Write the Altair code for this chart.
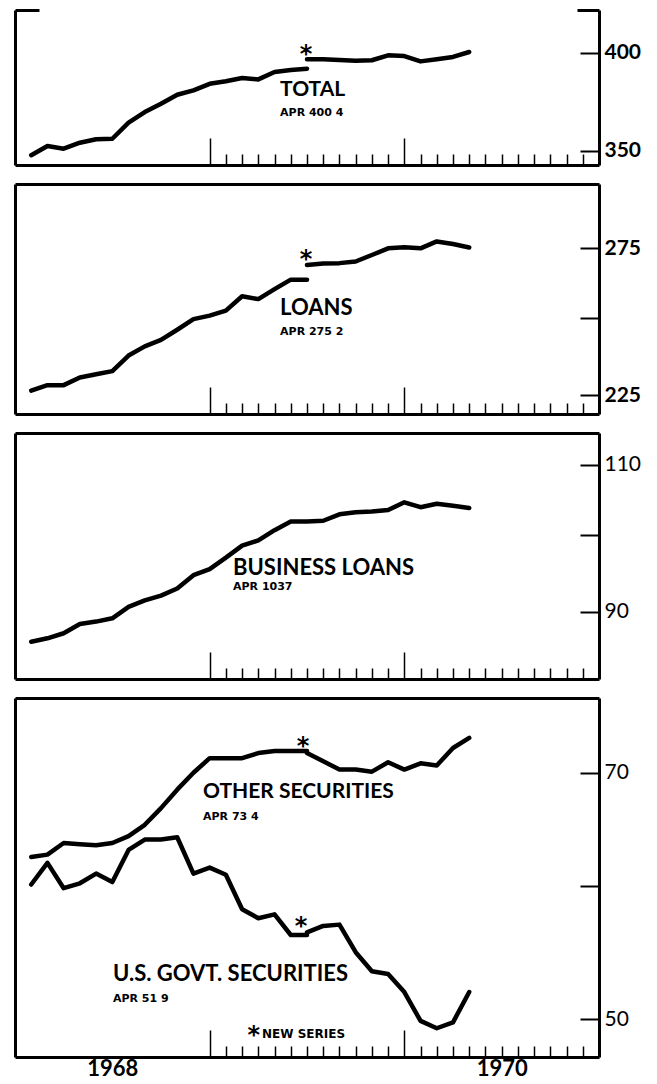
import altair as alt
import pandas as pd

# month index: Dec 1967 = 0, Jan 1968 = 1, ... Dec 1969 = 24, Apr 1970 = 28
month_old = list(range(1, 19))    # Jan 1968 .. Jun 1969 (old series)
month_new = list(range(18, 29))   # Jun 1969 .. Apr 1970 (new series)
month_all = list(range(1, 29))

total_old = [347.8, 352.2, 350.9, 353.8, 355.5, 355.7, 363.6, 368.9, 373.1, 377.7,
             380.0, 383.4, 384.7, 386.4, 385.7, 389.6, 390.7, 391.4]
total_new = [396.4, 396.4, 396.0, 395.7, 395.9, 398.6, 398.2, 395.3, 396.4, 397.7, 400.4]

loans_old = [226.4, 228.1, 228.1, 230.5, 231.5, 232.5, 237.5, 240.5, 242.6, 246.0,
             249.6, 250.8, 252.5, 257.5, 256.5, 260.0, 263.4, 263.4]
loans_new = [268.7, 269.3, 269.4, 270.0, 272.4, 274.9, 275.3, 274.9, 277.5, 276.5, 275.2]

business = [86.4, 86.8, 87.4, 88.5, 88.8, 89.2, 90.6, 91.4, 92.0, 92.9, 94.6, 95.4,
            96.9, 98.5, 99.2, 100.6, 101.8, 101.8, 101.9, 102.8, 103.1, 103.2, 103.4,
            104.5, 103.8, 104.3, 104.0, 103.7]

other_old = [62.4, 62.6, 63.6, 63.5, 63.4, 63.6, 64.2, 65.2, 66.7, 68.4, 70.0, 71.4,
             71.4, 71.4, 71.9, 72.1, 72.1, 72.1]
other_new = [71.9, 71.1, 70.3, 70.3, 70.1, 71.0, 70.3, 70.9, 70.7, 72.4, 73.4]

govt_old = [60.1, 61.9, 59.8, 60.2, 61.0, 60.3, 63.0, 63.9, 63.9, 64.1, 61.0, 61.5,
            60.9, 58.1, 57.4, 57.7, 56.1, 56.1]
govt_new = [56.3, 56.8, 56.9, 54.8, 53.4, 53.2, 51.9, 49.9, 49.4, 49.8, 51.9]

# axis settings (log / ratio scale)
y_domains = [[343.2, 424.0], [219.3, 300.1], [82.11, 114.86], [47.50, 77.51]]
y_ticks = [[350, 400], [225, 250, 275], [90, 100, 110], [50, 60, 70]]
y_labels = [[350, 400], [225, 275], [90, 110], [50, 70]]
minor_months = [m for m in range(13, 36) if m != 24]
major_months = [12, 24]
year_positions = [6, 30]
year_names = ["1968", "1970"]

# annotations (text, month, value, kind, size)
titles = [
    [("TOTAL", 16.34, 380.1, "title", 21), ("APR  400 4", 16.34, 368.2, "small", 11),
     ("*", 17.94, 402.2, "star", 24)],
    [("LOANS", 16.34, 253.3, "title", 22), ("APR  275 2", 16.34, 245.4, "small", 11),
     ("*", 17.94, 272.8, "star", 24)],
    [("BUSINESS LOANS", 13.44, 95.58, "title", 22), ("APR  1037", 13.44, 93.09, "small", 11)],
    [("OTHER SECURITIES", 11.59, 68.21, "title", 21), ("APR  73 4", 11.59, 65.89, "small", 11),
     ("U.S. GOVT. SECURITIES", 6.04, 53.19, "title", 22), ("APR  51 9", 6.04, 51.41, "small", 11),
     ("*", 17.76, 73.09, "star", 24), ("*", 17.63, 57.18, "star", 24),
     ("*", 14.72, 49.3, "star", 24), ("NEW SERIES", 15.23, 49.02, "small", 12)],
]

FONT = "Lato"
FONT2 = "DejaVu Sans"
W = 584
HEIGHTS = [155, 230, 246, 359]
X_DOMAIN = [0, 36]


def series_df(parts):
    rows = []
    for name, ms, vs in parts:
        for m, v in zip(ms, vs):
            rows.append({"series": name, "month": m, "value": v})
    return pd.DataFrame(rows)


panel_data = [
    series_df([("old", month_old, total_old), ("new", month_new, total_new)]),
    series_df([("old", month_old, loans_old), ("new", month_new, loans_new)]),
    series_df([("all", month_all, business)]),
    series_df([("other_old", month_old, other_old), ("other_new", month_new, other_new),
               ("govt_old", month_old, govt_old), ("govt_new", month_new, govt_new)]),
]


def make_panel(i):
    df = panel_data[i]
    ydom = y_domains[i]
    xs = alt.Scale(domain=X_DOMAIN, nice=False, zero=False)
    ys = alt.Scale(type="log", domain=ydom, nice=False, zero=False)
    bold = "bold" if i < 2 else "normal"
    years = i == 3
    full_top = i > 0

    def line(xaxis, yaxis, visible=False):
        mk = alt.Chart(df).mark_line(color="black", strokeWidth=4.5, strokeCap="round",
                                     strokeJoin="round", opacity=1 if visible else 0)
        return mk.encode(
            x=alt.X("month:Q", scale=xs, axis=xaxis, title=None),
            y=alt.Y("value:Q", scale=ys, axis=yaxis, title=None),
            detail="series:N",
        )

    if years:
        x_border = alt.Axis(orient="bottom", domain=True, domainWidth=3, ticks=False, tickSize=0,
                            values=year_positions, labels=True,
                            labelExpr=f"datum.value == {year_positions[0]} ? '{year_names[0]}' : '{year_names[1]}'",
                            labelFontSize=22, labelFontWeight="bold", labelPadding=1,
                            labelFont=FONT, grid=False)
    else:
        x_border = alt.Axis(orient="bottom", domain=True, domainWidth=3, ticks=False, tickSize=0,
                            labels=False, grid=False, values=[0])
    y_right = alt.Axis(orient="right", domain=True, domainWidth=3, ticks=False, tickSize=0,
                       values=y_labels[i], labelPadding=5, labelFontSize=21,
                       labelFontWeight=bold, labelFont=FONT, grid=False)
    x_minor = alt.Axis(orient="bottom", offset=-11, tickSize=11, tickWidth=1.5,
                       values=minor_months, domain=False, labels=False, grid=False)
    y_right_ticks = alt.Axis(orient="right", offset=-19, tickSize=19, tickWidth=2,
                             values=y_ticks[i], domain=False, labels=False, grid=False)
    x_major = alt.Axis(orient="bottom", offset=-27, tickSize=27, tickWidth=1.5,
                       values=major_months, domain=False, labels=False, grid=False)
    y_left = alt.Axis(orient="left", domain=True, domainWidth=3, ticks=False, tickSize=0,
                      labels=False, grid=False, values=[ydom[0]])

    layers = [
        line(x_border, y_right, visible=True),
        line(x_minor, y_right_ticks),
        line(x_major, y_left),
    ]
    if full_top:
        x_top = alt.Axis(orient="top", domain=True, domainWidth=3, ticks=False, tickSize=0,
                         labels=False, grid=False, values=[0])
        layers.append(line(x_top, None))
    else:
        y_lc = alt.Axis(orient="left", offset=-24, tickSize=24, tickWidth=3,
                        values=[ydom[1]], domain=False, labels=False, grid=False)
        y_rc = alt.Axis(orient="right", offset=-22, tickSize=22, tickWidth=3,
                        values=[ydom[1]], domain=False, labels=False, grid=False)
        layers.append(line(None, y_lc))
        layers.append(line(None, y_rc))

    for txt, mx, vy, kind, fs in titles[i]:
        tdf = pd.DataFrame([{"label": txt, "month": mx, "value": vy}])
        if kind == "star":
            props = dict(align="center", baseline="alphabetic", font=FONT2, dy=13)
        elif kind == "small":
            props = dict(align="left", baseline="middle", font=FONT2)
        else:
            props = dict(align="left", baseline="middle", font=FONT)
        t = alt.Chart(tdf).mark_text(
            fontSize=fs, fontWeight="bold", color="black", **props
        ).encode(
            x=alt.X("month:Q", scale=xs, axis=None),
            y=alt.Y("value:Q", scale=ys, axis=None),
            text="label:N",
        )
        layers.append(t)

    return alt.layer(*layers).resolve_axis(x="independent", y="independent").properties(
        width=W, height=HEIGHTS[i])


chart = alt.vconcat(*[make_panel(i) for i in range(4)], spacing=19, bounds="flush").properties(
    padding={"left": 5, "top": 0, "right": 5, "bottom": 0}
).configure_view(stroke=None).configure_axis(
    domainColor="black", tickColor="black", labelColor="black", grid=False
)

chart.save("out.html", embed_options={"renderer": "svg", "actions": False})
